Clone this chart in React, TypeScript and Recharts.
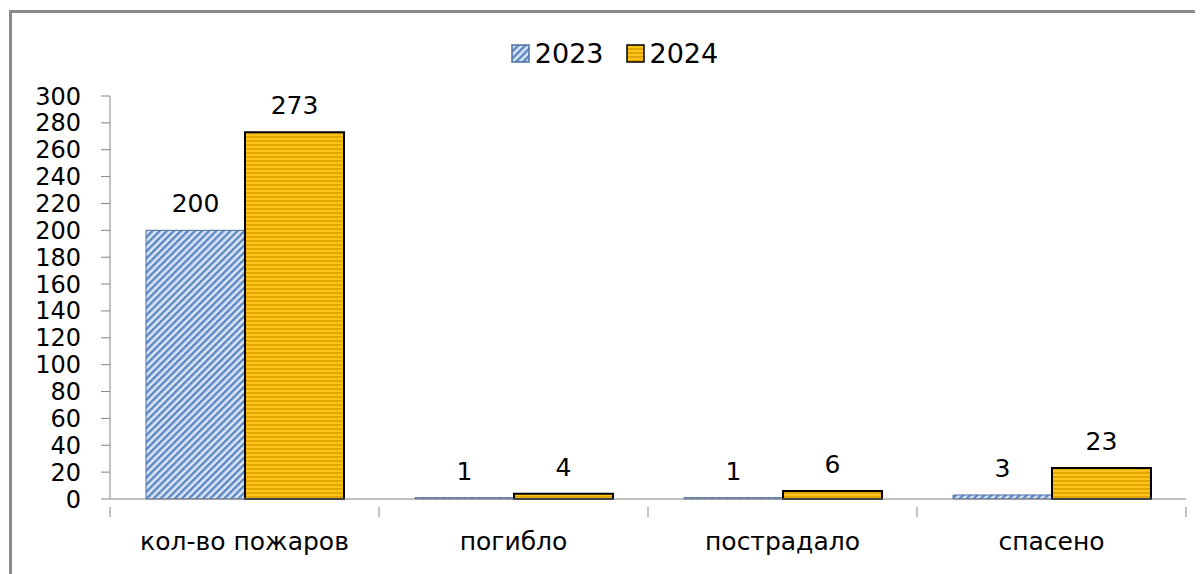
import { BarChart, Bar, XAxis, YAxis, LabelList } from 'recharts';

const categories = ['кол-во пожаров', 'погибло', 'пострадало', 'спасено'];
const values2023 = [200, 1, 1, 3];
const values2024 = [273, 4, 6, 23];
const yTicks = [0, 20, 40, 60, 80, 100, 120, 140, 160, 180, 200, 220, 240, 260, 280, 300];

const chartData = categories.map((name, i) => ({
  name,
  y2023: values2023[i],
  y2024: values2024[i],
}));

const FONT = '"DejaVu Sans", sans-serif';
const AXIS = '#868686';

function Patterns() {
  return (
    <svg width={0} height={0} style={{ position: 'absolute' }}>
      <defs>
        <pattern id="hatch2023" patternUnits="userSpaceOnUse" width={5} height={5} patternTransform="rotate(45)">
          <rect width={5} height={5} fill="#dbe6f4" />
          <rect width={2.4} height={5} fill="#5b87c2" />
        </pattern>
        <pattern id="stripe2024" patternUnits="userSpaceOnUse" width={4} height={4}>
          <rect width={4} height={4} fill="#fcc419" />
          <rect width={4} height={1.8} fill="#e2a200" />
        </pattern>
      </defs>
    </svg>
  );
}

// category ticks sit on the boundaries, like Excel
function CategoryTick(props: any) {
  const { x, y, payload, index } = props;
  const half = 134.5;
  return (
    <g>
      <line x1={x - half} y1={y} x2={x - half} y2={y + 10} stroke={AXIS} />
      {index === categories.length - 1 && (
        <line x1={x + half} y1={y} x2={x + half} y2={y + 10} stroke={AXIS} />
      )}
      <text x={x} y={y + 43} textAnchor="middle" fontSize={25} fill="#000" fontFamily={FONT}>
        {payload.value}
      </text>
    </g>
  );
}

function LegendItem({ fill, stroke, label }: { fill: string; stroke: string; label: string }) {
  return (
    <span style={{ display: 'inline-flex', alignItems: 'center', marginRight: 22 }}>
      <svg width={19} height={19} style={{ marginRight: 5 }}>
        <rect x={1} y={1} width={17} height={17} fill={fill} stroke={stroke} strokeWidth={1.5} />
      </svg>
      <span>{label}</span>
    </span>
  );
}

export default function App() {
  return (
    <div style={{ position: 'relative', width: 1195, height: 566 }}>
      <Patterns />
      <div
        style={{
          position: 'absolute',
          left: 1,
          top: 2,
          width: 1200,
          height: 580,
          borderLeft: '3px solid #8a8a8a',
          borderTop: '3px solid #8a8a8a',
          boxSizing: 'border-box',
        }}
      />
      <div
        style={{
          position: 'absolute',
          left: -8,
          top: 30,
          width: 1203,
          fontFamily: FONT,
          fontSize: 27,
          color: '#000',
          display: 'flex',
          justifyContent: 'center',
          paddingLeft: 48,
          boxSizing: 'border-box',
        }}
      >
        <LegendItem fill="url(#hatch2023)" stroke="#4f6f9f" label="2023" />
        <LegendItem fill="url(#stripe2024)" stroke="#000" label="2024" />
      </div>
      <div style={{ position: 'absolute', left: -8, top: -8 }}>
        <BarChart
          width={1203}
          height={574}
          data={chartData}
          margin={{ top: 96, right: 17, bottom: 0, left: 0 }}
          barGap={0}
          barCategoryGap={36}
        >
          <XAxis
            dataKey="name"
            height={75}
            stroke={AXIS}
            tickLine={false}
            tick={<CategoryTick />}
            interval={0}
          />
          <YAxis
            width={110}
            domain={[0, 300]}
            ticks={yTicks}
            interval={0}
            stroke={AXIS}
            tickSize={9}
            tickMargin={20}
            tick={{ fill: '#000', fontSize: 24, fontFamily: FONT }}
          />
          <Bar dataKey="y2023" fill="url(#hatch2023)" stroke="#4f6f9f" strokeWidth={1} isAnimationActive={false}>
            <LabelList dataKey="y2023" position="top" offset={18} fill="#000" fontSize={25} fontFamily={FONT} />
          </Bar>
          <Bar dataKey="y2024" fill="url(#stripe2024)" stroke="#000" strokeWidth={2} isAnimationActive={false}>
            <LabelList dataKey="y2024" position="top" offset={18} fill="#000" fontSize={25} fontFamily={FONT} />
          </Bar>
        </BarChart>
      </div>
    </div>
  );
}
